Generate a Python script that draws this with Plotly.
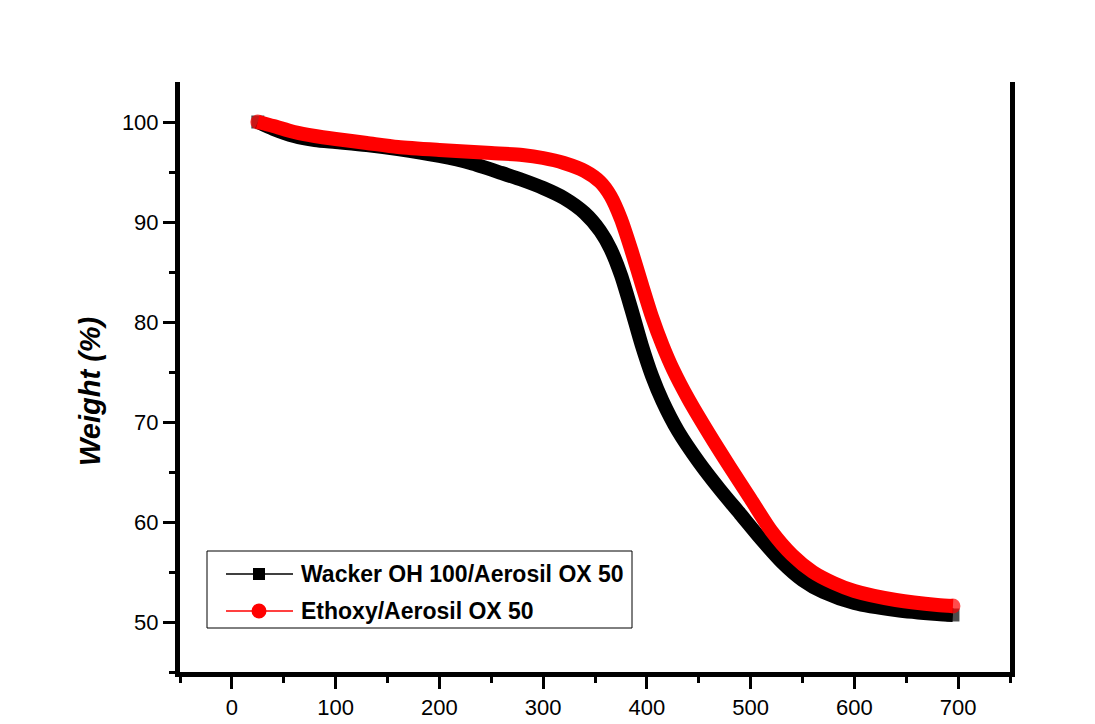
import plotly.graph_objects as go

# Wacker OH 100/Aerosil OX 50 (black)
wacker_temp = [25, 40, 60, 80, 100, 130, 160, 200, 230, 260, 280, 300, 320, 340, 355, 365, 375,
               385, 395, 405, 415, 430, 450, 470, 490, 510, 530, 550, 570, 600, 640, 680, 695]
wacker_weight = [100, 99.3, 98.6, 98.2, 98.0, 97.7, 97.3, 96.6, 95.9, 94.9, 94.2, 93.4, 92.4, 90.9, 89.1, 87.3, 84.7,
                 81.3, 77.7, 74.6, 72.1, 69.1, 66.0, 63.3, 60.8, 58.3, 56.0, 54.2, 53.0, 51.9, 51.2, 50.8, 50.7]

# Ethoxy/Aerosil OX 50 (red)
ethoxy_temp = [25, 40, 60, 80, 100, 130, 160, 200, 250, 280, 300, 320, 340, 355, 365, 375,
               385, 395, 405, 415, 425, 440, 460, 480, 500, 520, 540, 560, 580, 600, 640, 680, 695]
ethoxy_weight = [100, 99.6, 99.0, 98.6, 98.3, 97.9, 97.5, 97.2, 96.9, 96.7, 96.4, 95.9, 95.1, 94.0, 92.6, 90.3,
                 87.2, 83.8, 80.5, 77.7, 75.3, 72.3, 68.8, 65.5, 62.3, 59.1, 56.7, 55.0, 53.9, 53.1, 52.2, 51.7, 51.6]

series_names = ["Wacker OH 100/Aerosil OX 50", "Ethoxy/Aerosil OX 50"]
x_tick_vals = [0, 100, 200, 300, 400, 500, 600, 700]
y_tick_vals = [50, 60, 70, 80, 90, 100]

FONT = "Arial, 'Liberation Sans', sans-serif"

fig = go.Figure()

def end_sizes(n, s):
    return [s if i in (0, n - 1) else 0 for i in range(n)]

fig.add_trace(go.Scatter(
    x=wacker_temp, y=wacker_weight, mode="lines+markers",
    line=dict(color="black", width=14, shape="spline", smoothing=0.7),
    marker=dict(symbol="square", color="black", size=end_sizes(len(wacker_temp), 13), line=dict(width=0)),
    showlegend=False, hoverinfo="skip"))
fig.add_trace(go.Scatter(
    x=ethoxy_temp, y=ethoxy_weight, mode="lines+markers",
    line=dict(color="#ff0000", width=14, shape="spline", smoothing=0.7),
    marker=dict(symbol="circle", color="#ff0000", size=end_sizes(len(ethoxy_temp), 15), line=dict(width=0)),
    showlegend=False, hoverinfo="skip"))

axis_common = dict(
    showgrid=False, zeroline=False, showline=True, linecolor="black", linewidth=5,
    ticks="outside", ticklen=12, tickwidth=3, tickcolor="black", automargin=False,
    tickfont=dict(family=FONT, size=22, color="black"),
)

fig.update_xaxes(range=[-50, 750], tickvals=x_tick_vals, mirror=False,
                 minor=dict(ticks="outside", ticklen=6, tickwidth=3, tickcolor="black", dtick=50, tick0=0),
                 **axis_common)
fig.update_yaxes(range=[45, 104], tickvals=y_tick_vals, mirror=True,
                 minor=dict(ticks="outside", ticklen=6, tickwidth=3, tickcolor="black", dtick=5, tick0=0),
                 **axis_common)

fig.add_annotation(text="Weight (%)", xref="paper", yref="paper",
                   x=-0.1084, y=0.4746, showarrow=False, textangle=-90,
                   xanchor="center", yanchor="middle",
                   font=dict(family=FONT, size=29, color="black", weight="bold", style="italic"))

# ---- manual legend (plot area: x 180..1010 px, y 82..672 px) ----
W, H, L, B = 830.0, 590.0, 180.0, 672.0
def px(xp):
    return (xp - L) / W
def py(yp):
    return (B - yp) / H

fig.add_shape(type="rect", xref="paper", yref="paper",
              x0=px(207), x1=px(632), y0=py(628), y1=py(551),
              line=dict(color="black", width=1), fillcolor="white", layer="above")

rows = [574, 611]
colors = ["black", "#ff0000"]
for i, name in enumerate(series_names):
    yy = py(rows[i])
    fig.add_shape(type="line", xref="paper", yref="paper",
                  x0=px(226), x1=px(293), y0=yy, y1=yy,
                  line=dict(color=colors[i], width=1.5), layer="above")
    fig.add_shape(type="rect" if i == 0 else "circle", xref="paper", yref="paper",
                  xsizemode="pixel", ysizemode="pixel",
                  xanchor=px(259), yanchor=yy,
                  x0=-6 if i == 0 else -7.5, x1=6 if i == 0 else 7.5,
                  y0=-6 if i == 0 else -7.5, y1=6 if i == 0 else 7.5,
                  fillcolor=colors[i], line=dict(width=0), layer="above")
    fig.add_annotation(text=name, xref="paper", yref="paper", x=px(299), y=yy,
                       xanchor="left", yanchor="middle", showarrow=False,
                       font=dict(family=FONT, size=23, color="black", weight="bold"))

fig.update_layout(
    width=1095, height=724,
    margin=dict(l=180, r=85, t=82, b=52),
    paper_bgcolor="white", plot_bgcolor="white",
    showlegend=False,
)

fig.write_html("out.html")
